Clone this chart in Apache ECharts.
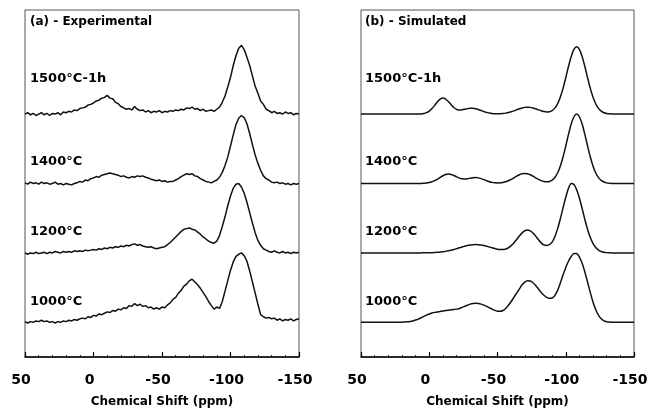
<!DOCTYPE html>
<html><head><meta charset="utf-8">
<script src="https://cdn.jsdelivr.net/npm/echarts@6/dist/echarts.min.js"></script>
<style>html,body{margin:0;padding:0;background:#fff}#c{width:651px;height:413px}</style>
</head><body><div id="c"></div>
<script>
// Chemical shift grid (ppm)
const ppm = [
  50,48,46,44,42,40,38,36,34,32,
  30,28,26,24,22,20,18,16,14,12,
  10,8,6,4,2,0,-2,-4,-6,-8,
  -10,-12,-14,-16,-18,-20,-22,-24,-26,-28,
  -30,-32,-34,-36,-38,-40,-42,-44,-46,-48,
  -50,-52,-54,-56,-58,-60,-62,-64,-66,-68,
  -70,-72,-74,-76,-78,-80,-82,-84,-86,-88,
  -90,-92,-94,-96,-98,-100,-102,-104,-106,-108,
  -110,-112,-114,-116,-118,-120,-122,-124,-126,-128,
  -130,-132,-134,-136,-138,-140,-142,-144,-146,-148,
  -150];
const xTicks = [50, 0, -50, -100, -150];
const spectrumLabels = ['1500°C-1h', '1400°C', '1200°C', '1000°C'];
const offsets = [3.5, 2.5, 1.5, 0.5];
const panelTitles = ['(a) - Experimental', '(b) - Simulated'];
const axisTitle = 'Chemical Shift (ppm)';

// (a) Experimental spectra (normalised intensity)
const exp1500 = [
  0.00,0.02,-0.01,0.01,-0.02,0.00,0.02,-0.01,0.01,-0.02,
  0.01,0.00,0.02,-0.01,0.03,0.02,0.04,0.03,0.06,0.05,
  0.08,0.09,0.10,0.13,0.14,0.16,0.19,0.20,0.23,0.24,
  0.27,0.23,0.22,0.17,0.15,0.11,0.09,0.07,0.08,0.06,
  0.11,0.07,0.05,0.06,0.03,0.05,0.02,0.04,0.03,0.05,
  0.02,0.04,0.03,0.05,0.04,0.06,0.05,0.07,0.06,0.09,
  0.08,0.10,0.07,0.08,0.05,0.07,0.04,0.05,0.06,0.04,
  0.07,0.10,0.17,0.26,0.39,0.53,0.70,0.84,0.95,0.99,
  0.93,0.82,0.70,0.55,0.40,0.30,0.19,0.14,0.07,0.05,
  0.02,0.04,0.01,0.02,0.00,0.03,0.01,0.02,-0.01,0.01,
  0.00];
const exp1400 = [
  0.01,-0.01,0.02,0.00,0.01,-0.01,0.02,0.00,0.01,-0.01,
  0.00,0.02,-0.01,0.00,-0.02,0.00,-0.01,-0.02,0.00,0.01,
  0.03,0.02,0.05,0.04,0.07,0.08,0.10,0.09,0.12,0.13,
  0.14,0.15,0.14,0.13,0.12,0.10,0.11,0.09,0.08,0.10,
  0.09,0.11,0.10,0.11,0.09,0.08,0.06,0.05,0.04,0.05,
  0.03,0.04,0.02,0.03,0.03,0.05,0.07,0.10,0.12,0.14,
  0.13,0.14,0.11,0.10,0.07,0.05,0.03,0.02,0.01,0.03,
  0.05,0.09,0.16,0.26,0.38,0.54,0.70,0.85,0.94,0.98,
  0.95,0.86,0.72,0.56,0.41,0.29,0.19,0.11,0.07,0.05,
  0.02,0.01,0.02,0.00,0.01,-0.01,0.00,-0.02,0.00,-0.01,
  0.00];
const exp1200 = [
  0.00,-0.02,0.00,-0.01,0.01,-0.01,0.00,0.01,-0.01,0.01,
  0.00,0.02,0.01,0.00,0.02,0.01,0.02,0.01,0.03,0.02,
  0.03,0.02,0.04,0.03,0.04,0.05,0.04,0.06,0.05,0.07,
  0.06,0.08,0.07,0.09,0.08,0.10,0.09,0.11,0.10,0.12,
  0.13,0.11,0.12,0.10,0.09,0.08,0.09,0.07,0.06,0.07,
  0.08,0.09,0.12,0.15,0.19,0.23,0.27,0.31,0.34,0.35,
  0.36,0.34,0.33,0.30,0.27,0.23,0.20,0.17,0.15,0.14,
  0.17,0.25,0.38,0.52,0.68,0.82,0.93,0.99,1.00,0.95,
  0.86,0.73,0.58,0.43,0.29,0.18,0.11,0.06,0.04,0.02,
  0.01,0.03,0.01,0.00,0.02,0.00,0.01,-0.01,0.01,0.00,
  0.01];
const exp1000 = [
  0.01,-0.01,0.01,0.00,0.02,0.01,0.03,0.01,0.02,0.00,
  0.01,-0.01,0.01,0.00,0.02,0.01,0.03,0.02,0.04,0.03,
  0.05,0.06,0.05,0.08,0.07,0.10,0.09,0.12,0.11,0.13,
  0.15,0.14,0.17,0.16,0.19,0.18,0.21,0.20,0.24,0.23,
  0.27,0.24,0.26,0.23,0.24,0.21,0.22,0.19,0.21,0.19,
  0.22,0.21,0.25,0.28,0.33,0.36,0.42,0.46,0.52,0.55,
  0.60,0.62,0.58,0.54,0.49,0.43,0.37,0.30,0.24,0.19,
  0.22,0.20,0.30,0.45,0.60,0.75,0.87,0.95,0.98,1.00,
  0.96,0.88,0.74,0.58,0.42,0.26,0.11,0.08,0.06,0.07,
  0.05,0.06,0.03,0.05,0.02,0.04,0.03,0.05,0.02,0.04,
  0.05];

// (b) Simulated spectra (normalised intensity)
const sim1500 = [
  0,0,0,0,0,0,0,0,0,0,
  0,0,0,0,0,0,0,0,0,0,
  0,0.001,0.003,0.009,0.021,0.044,0.080,0.127,0.177,0.215,
  0.231,0.217,0.181,0.136,0.095,0.069,0.058,0.061,0.069,0.079,
  0.084,0.084,0.078,0.066,0.052,0.037,0.025,0.015,0.009,0.005,
  0.004,0.005,0.008,0.014,0.022,0.033,0.046,0.061,0.076,0.088,
  0.097,0.100,0.097,0.088,0.076,0.061,0.047,0.036,0.031,0.034,
  0.051,0.086,0.148,0.242,0.370,0.523,0.686,0.831,0.933,0.970,
  0.933,0.831,0.686,0.523,0.370,0.242,0.146,0.082,0.043,0.020,
  0.009,0.004,0.0015,0,0,0,0,0,0,0,
  0];
const sim1400 = [
  0,0,0,0,0,0,0,0,0,0,
  0,0,0,0,0,0,0,0,0,0,
  0,0,0.001,0.003,0.0065,0.013,0.025,0.041,0.063,0.088,
  0.112,0.129,0.136,0.131,0.116,0.096,0.078,0.067,0.065,0.069,
  0.077,0.084,0.086,0.081,0.070,0.056,0.040,0.026,0.016,0.010,
  0.008,0.010,0.016,0.025,0.040,0.060,0.082,0.105,0.126,0.140,
  0.145,0.140,0.126,0.105,0.082,0.060,0.041,0.029,0.024,0.029,
  0.048,0.087,0.151,0.249,0.381,0.539,0.707,0.857,0.962,1.000,
  0.962,0.857,0.707,0.539,0.381,0.249,0.151,0.085,0.044,0.021,
  0.009,0.004,0.0015,0,0,0,0,0,0,0,
  0];
const sim1200 = [
  0,0,0,0,0,0,0,0,0,0,
  0,0,0,0,0,0,0,0,0,0,
  0,0,0,0.001,0.001,0.002,0.003,0.005,0.008,0.012,
  0.016,0.022,0.030,0.039,0.049,0.061,0.073,0.085,0.096,0.106,
  0.114,0.118,0.120,0.118,0.114,0.106,0.096,0.085,0.074,0.063,
  0.054,0.049,0.048,0.056,0.074,0.104,0.144,0.192,0.243,0.288,
  0.319,0.331,0.318,0.287,0.242,0.191,0.145,0.115,0.108,0.118,
  0.155,0.233,0.346,0.489,0.648,0.801,0.930,1.000,0.985,0.910,
  0.790,0.640,0.482,0.338,0.222,0.135,0.077,0.040,0.020,0.009,
  0.004,0.0015,0,0,0,0,0,0,0,0,
  0];
const sim1000 = [
  0,0,0,0,0,0,0,0,0,0,
  0,0,0,0,0,0.002,0.004,0.007,0.012,0.020,
  0.032,0.046,0.065,0.085,0.104,0.120,0.133,0.143,0.150,0.156,
  0.162,0.170,0.175,0.180,0.185,0.190,0.200,0.215,0.230,0.248,
  0.262,0.272,0.276,0.272,0.262,0.248,0.230,0.210,0.190,0.172,
  0.160,0.158,0.170,0.200,0.245,0.300,0.360,0.420,0.480,0.540,
  0.580,0.600,0.595,0.570,0.530,0.480,0.430,0.390,0.360,0.345,
  0.350,0.385,0.460,0.565,0.680,0.790,0.880,0.948,0.990,0.990,
  0.940,0.850,0.725,0.578,0.428,0.290,0.180,0.100,0.050,0.020,
  0.008,0.003,0,0,0,0,0,0,0,0,
  0];

const experimental = [exp1500, exp1400, exp1200, exp1000];
const simulated = [sim1500, sim1400, sim1200, sim1000];

const FONT = '"DejaVu Sans", Arial, sans-serif';
const chart = echarts.init(document.getElementById('c'), null, {renderer: 'canvas'});

function makeX(gi) {
  return {
    type: 'value', gridIndex: gi, min: -150, max: 50, interval: 50, inverse: true,
    axisLine: {show: true, onZero: false, lineStyle: {color: '#000', width: 1.5}},
    axisTick: {show: true, inside: true, length: 5, lineStyle: {color: '#000', width: 1.2}},
    minorTick: {show: true, splitNumber: 5, length: 2, lineStyle: {color: '#222', width: 1}},
    splitLine: {show: false},
    axisLabel: {
      color: '#000', fontSize: 14, fontWeight: 'bold', fontFamily: FONT, margin: 16,
      padding: [0, 8, 0, 0],
      customValues: xTicks,
      formatter: v => String(v)
    },
    name: axisTitle, nameLocation: 'middle', nameGap: 39,
    nameTextStyle: {color: '#000', fontSize: 12, fontWeight: 'bold', fontFamily: FONT}
  };
}
function makeY(gi) {
  return {type: 'value', gridIndex: gi, min: 0, max: 5, show: false};
}

const series = [];
experimental.forEach((arr, k) => {
  series.push({
    type: 'line', xAxisIndex: 0, yAxisIndex: 0, showSymbol: false, silent: true,
    lineStyle: {color: '#111', width: 1.5}, smooth: false,
    data: ppm.map((p, i) => [p, offsets[k] + arr[i]])
  });
});
simulated.forEach((arr, k) => {
  series.push({
    type: 'line', xAxisIndex: 1, yAxisIndex: 1, showSymbol: false, silent: true,
    lineStyle: {color: '#111', width: 1.5}, smooth: 0.25,
    data: ppm.map((p, i) => [p, offsets[k] + arr[i]])
  });
});

const labelTops = [80, 163, 233, 303];
const graphic = [];
[30, 365].forEach((x, pi) => {
  graphic.push({type: 'text', left: x, top: 16,
    style: {text: panelTitles[pi], font: 'bold 12px ' + FONT, fill: '#000'}});
  spectrumLabels.forEach((t, k) => {
    graphic.push({type: 'text', left: x, top: labelTops[k] - 8,
      style: {text: t, font: 'bold 13px ' + FONT, fill: '#000'}});
  });
});

chart.setOption({
  animation: false,
  backgroundColor: '#fff',
  grid: [
    {left: 25, top: 10, width: 274, height: 347, show: true, borderColor: '#555', borderWidth: 1, backgroundColor: 'transparent'},
    {left: 361, top: 10, width: 273, height: 347, show: true, borderColor: '#555', borderWidth: 1, backgroundColor: 'transparent'}
  ],
  xAxis: [makeX(0), makeX(1)],
  yAxis: [makeY(0), makeY(1)],
  series: series,
  graphic: graphic
});
</script>
</body></html>
